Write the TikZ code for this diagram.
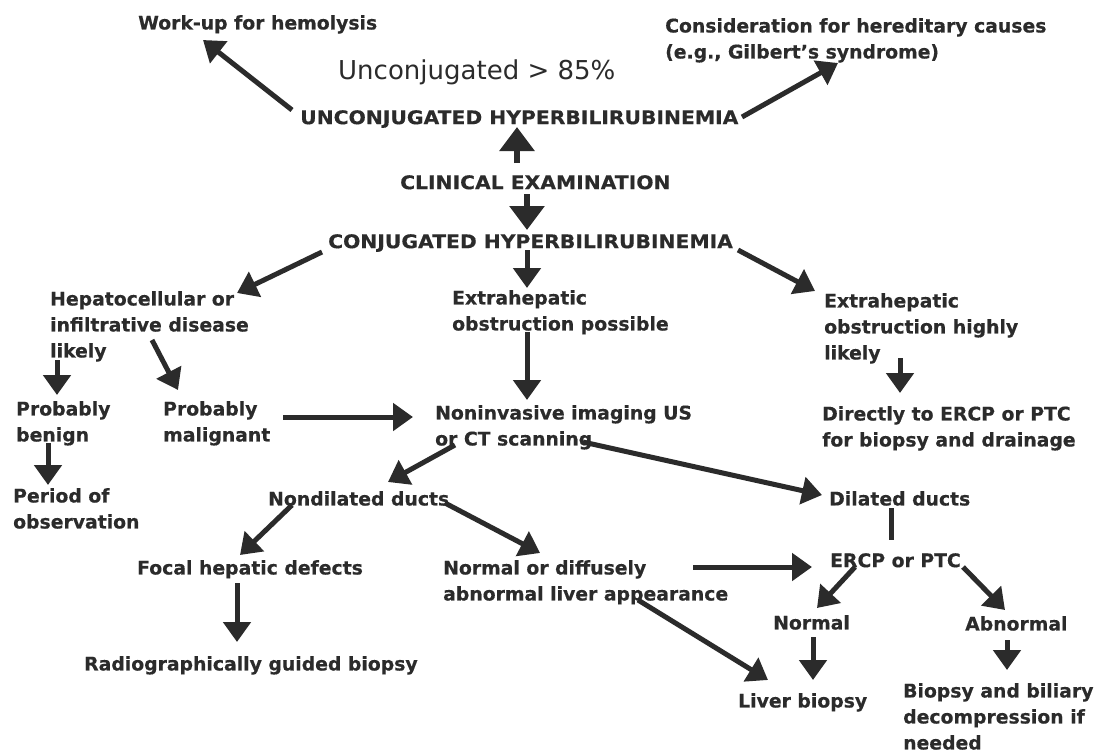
\documentclass[tikz,border=0pt]{standalone}
\usepackage{fontspec}
\setmainfont{DejaVu Sans}
\usetikzlibrary{arrows.meta}
\definecolor{ink}{HTML}{2B2B2B}
\begin{document}
\begin{tikzpicture}[x=1pt,y=-1pt,
  lbl/.style={anchor=north west, inner sep=0pt, align=left, text=ink,
    font=\fontsize{18.8}{26}\selectfont\bfseries\addfontfeature{FakeBold=0.4}},
  caps/.style={lbl, font=\fontsize{18.8}{26}\selectfont\bfseries\addfontfeature{FakeBold=0.4,FakeStretch=1.08}},
  pctlbl/.style={anchor=west, inner sep=0pt, text=ink,
    font=\fontsize{26}{30}\selectfont},
  arr/.style={draw=ink, line width=5pt, -{Triangle[length=20pt,width=27pt]}},
  bigarr/.style={draw=ink, line width=6pt, -{Triangle[length=24pt,width=34pt]}},
  plain/.style={draw=ink, line width=5pt}]
\fill[white] (0,0) rectangle (1097,753);
\useasboundingbox (0,0) rectangle (1097,753);

% ---- text blocks ----
\node[lbl] (hemo)   at (138,15)  {Work-up for hemolysis};
\node[lbl] (hered)  at (665,18)  {Consideration for hereditary causes\\(e.g., Gilbert’s syndrome)};
\node[pctlbl] (pct) at (338,72)  {Unconjugated > 85\%};
\node[caps] (unc)   at (300,110) {UNCONJUGATED HYPERBILIRUBINEMIA};
\node[caps] (clin)  at (400,175) {CLINICAL EXAMINATION};
\node[caps] (conj)  at (328,234) {CONJUGATED HYPERBILIRUBINEMIA};
\node[lbl] (hep)    at (50,291)  {Hepatocellular or\\infiltrative disease\\likely};
\node[lbl] (expos)  at (452,290) {Extrahepatic\\obstruction possible};
\node[lbl] (exhigh) at (824,293) {Extrahepatic\\obstruction highly\\likely};
\node[lbl] (benign) at (16,401)  {Probably\\benign};
\node[lbl] (malig)  at (163,401) {Probably\\malignant};
\node[lbl] (period) at (13,488)  {Period of\\observation};
\node[lbl] (nonin)  at (435,405) {Noninvasive imaging US\\or CT scanning};
\node[lbl] (direct) at (822,406) {Directly to ERCP or PTC\\for biopsy and drainage};
\node[lbl] (nondil) at (268,491) {Nondilated ducts};
\node[lbl] (dil)    at (829,491) {Dilated ducts};
\node[lbl] (focal)  at (137,560) {Focal hepatic defects};
\node[lbl] (radio)  at (84,656)  {Radiographically guided biopsy};
\node[lbl] (normor) at (443,560) {Normal or diffusely\\abnormal liver appearance};
\node[lbl] (ercp)   at (830,553) {ERCP or PTC};
\node[lbl] (normal) at (773,615) {Normal};
\node[lbl] (abn)    at (965,616) {Abnormal};
\node[lbl] (liver)  at (738,693) {Liver biopsy};
\node[lbl] (bbd)    at (903,683) {Biopsy and biliary\\decompression if\\needed};

% ---- connector end points ----
\coordinate (unc-w)   at (292,110); \coordinate (hemo-s)  at (203,40);
\coordinate (unc-e)   at (742,117); \coordinate (hered-s) at (838,63);
\coordinate (clin-n)  at (517,163); \coordinate (unc-s)   at (517,127);
\coordinate (clin-s)  at (527,194); \coordinate (conj-n)  at (527,230);
\coordinate (conj-sw) at (322,252); \coordinate (hep-ne)  at (237,293);
\coordinate (conj-s)  at (527,250); \coordinate (expos-n) at (527,288);
\coordinate (conj-se) at (738,250); \coordinate (exhigh-n) at (815,291);
\coordinate (hep-s)   at (57,360);  \coordinate (benign-n) at (57,395);
\coordinate (hep-se)  at (152,340); \coordinate (malig-n) at (178,390);
\coordinate (benign-s) at (48,443); \coordinate (period-n) at (48,485);
\coordinate (malig-e) at (283,417); \coordinate (nonin-w) at (413,417);
\coordinate (expos-s) at (527,332); \coordinate (nonin-n) at (527,400);
\coordinate (exhigh-s) at (900,358); \coordinate (direct-n) at (900,393);
\coordinate (nonin-sw) at (455,445); \coordinate (nondil-n) at (388,482);
\coordinate (nonin-se) at (583,442); \coordinate (dil-w)   at (822,495);
\coordinate (nondil-sw) at (292,505); \coordinate (focal-n) at (240,555);
\coordinate (nondil-se) at (445,503); \coordinate (normor-n) at (540,553);
\coordinate (focal-s) at (237,583); \coordinate (radio-n) at (237,642);
\coordinate (normor-e) at (693,567); \coordinate (ercp-w) at (812,567);
\coordinate (dil-s)   at (891,508); \coordinate (ercp-n)  at (891,540);
\coordinate (ercp-sw) at (855,567); \coordinate (normal-n) at (817,608);
\coordinate (ercp-se) at (963,567); \coordinate (abn-n)   at (1005,610);
\coordinate (normal-s) at (813,637); \coordinate (liver-n) at (813,680);
\coordinate (normor-s) at (638,600); \coordinate (liver-nw) at (768,680);
\coordinate (abn-s)   at (1007,640); \coordinate (bbd-n)   at (1007,670);

% ---- connectors ----
\draw[arr] (unc-w) -- (hemo-s);
\draw[arr] (unc-e) -- (hered-s);
\draw[bigarr] (clin-n) -- (unc-s);
\draw[bigarr] (clin-s) -- (conj-n);
\draw[arr] (conj-sw) -- (hep-ne);
\draw[arr] (conj-s) -- (expos-n);
\draw[arr] (conj-se) -- (exhigh-n);
\draw[arr] (hep-s) -- (benign-n);
\draw[arr] (hep-se) -- (malig-n);
\draw[arr] (benign-s) -- (period-n);
\draw[arr] (malig-e) -- (nonin-w);
\draw[arr] (expos-s) -- (nonin-n);
\draw[arr] (exhigh-s) -- (direct-n);
\draw[arr] (nonin-sw) -- (nondil-n);
\draw[arr] (nonin-se) -- (dil-w);
\draw[arr] (nondil-sw) -- (focal-n);
\draw[arr] (nondil-se) -- (normor-n);
\draw[arr] (focal-s) -- (radio-n);
\draw[arr] (normor-e) -- (ercp-w);
\draw[plain] (dil-s) -- (ercp-n);
\draw[arr] (ercp-sw) -- (normal-n);
\draw[arr] (ercp-se) -- (abn-n);
\draw[arr] (normal-s) -- (liver-n);
\draw[arr] (normor-s) -- (liver-nw);
\draw[arr] (abn-s) -- (bbd-n);
\end{tikzpicture}
\end{document}
